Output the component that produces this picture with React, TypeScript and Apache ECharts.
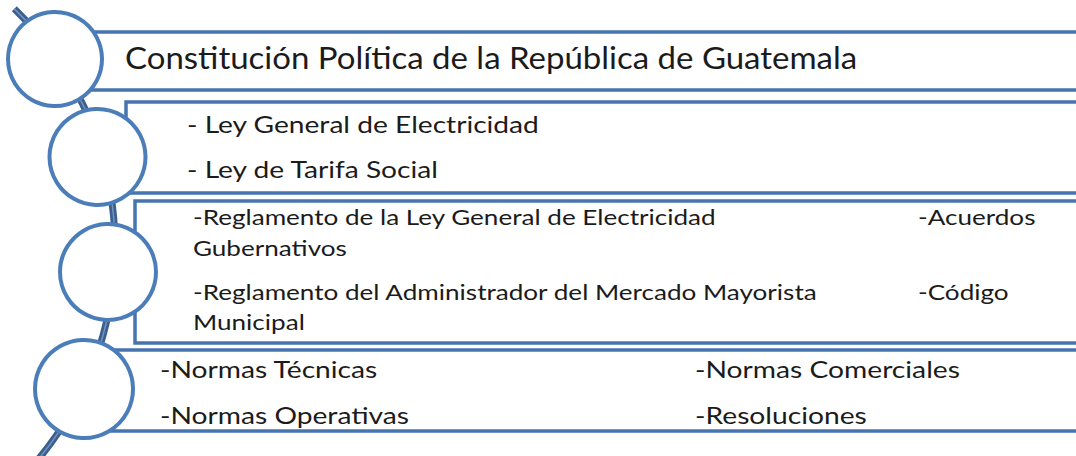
import React, { useEffect, useRef } from "react";
import * as echarts from "echarts";

const level1Items = ["Constitución Política de la República de Guatemala"];
const level2Items = ["- Ley General de Electricidad", "- Ley de Tarifa Social"];
const level3Left = [
  "-Reglamento de la Ley General de Electricidad",
  "Gubernativos",
  "-Reglamento del Administrador del Mercado Mayorista",
  "Municipal",
];
const level3Right = ["-Acuerdos", "-Código"];
const level4Left = ["-Normas Técnicas", "-Normas Operativas"];
const level4Right = ["-Normas Comerciales", "-Resoluciones"];

const FONT = "Lato, 'Open Sans', sans-serif";
const LINE = "#4674AE";
const RING = "#4B7DB9";
const TXT = "#1b1b1b";

function txt(text: string, x: number, y: number, size: number, sx: number) {
  return {
    type: "text",
    z: 10,
    x,
    y,
    scaleX: sx,
    style: {
      text,
      x: 0,
      y: 0,
      fontSize: size,
      fontFamily: FONT,
      fill: TXT,
      verticalAlign: "middle",
      align: "left",
    },
  };
}

function box(x: number, y: number, w: number, h: number) {
  return {
    type: "rect",
    z: 2,
    shape: { x, y, width: w, height: h },
    style: { fill: "none", stroke: LINE, lineWidth: 3.5 },
  };
}

function ring(cx: number, cy: number, r: number) {
  return {
    type: "circle",
    z: 5,
    shape: { cx, cy, r },
    style: { fill: "#ffffff", stroke: RING, lineWidth: 4 },
  };
}

export default function App() {
  const ref = useRef<HTMLDivElement>(null);
  useEffect(() => {
    if (!ref.current) return;
    const chart = echarts.init(ref.current, undefined, { renderer: "svg" });
    const spine = { cx: -217, cy: 247, r: 332, startAngle: -0.8, endAngle: 0.72, clockwise: true };
    const elements: any[] = [
      { type: "arc", z: 1, shape: spine, style: { fill: "none", stroke: "#3C5F8D", lineWidth: 7 } },
      { type: "arc", z: 1, shape: spine, style: { fill: "none", stroke: "#6F95C4", lineWidth: 1.5 } },
      box(80, 32, 1010, 58),
      box(126, 102, 964, 91),
      box(135, 201, 955, 142),
      box(95, 350, 995, 81),
      ring(55, 59, 47),
      ring(97.5, 157, 48),
      ring(108, 272, 48),
      ring(84, 389, 49),
    ];
    elements.push(txt(level1Items[0], 125, 58, 30, 1.1));
    const l2y = [124, 169];
    level2Items.forEach((t, i) => elements.push(txt(t, 187, l2y[i], 24, 1.173)));
    const l3y = [216, 247, 291, 321];
    level3Left.forEach((t, i) => elements.push(txt(t, 193, l3y[i], 22, 1.186)));
    const l3ry = [216, 291];
    level3Right.forEach((t, i) => elements.push(txt(t, 918, l3ry[i], 22, 1.186)));
    const l4y = [369, 415];
    level4Left.forEach((t, i) => elements.push(txt(t, 160, l4y[i], 24, 1.175)));
    level4Right.forEach((t, i) => elements.push(txt(t, 695, l4y[i], 24, 1.176)));

    chart.setOption({
      animation: false,
      backgroundColor: "#ffffff",
      graphic: { elements },
    });
    return () => chart.dispose();
  }, []);
  return (
    <div
      ref={ref}
      style={{ position: "absolute", left: 0, top: 0, width: 1076, height: 456 }}
    />
  );
}
